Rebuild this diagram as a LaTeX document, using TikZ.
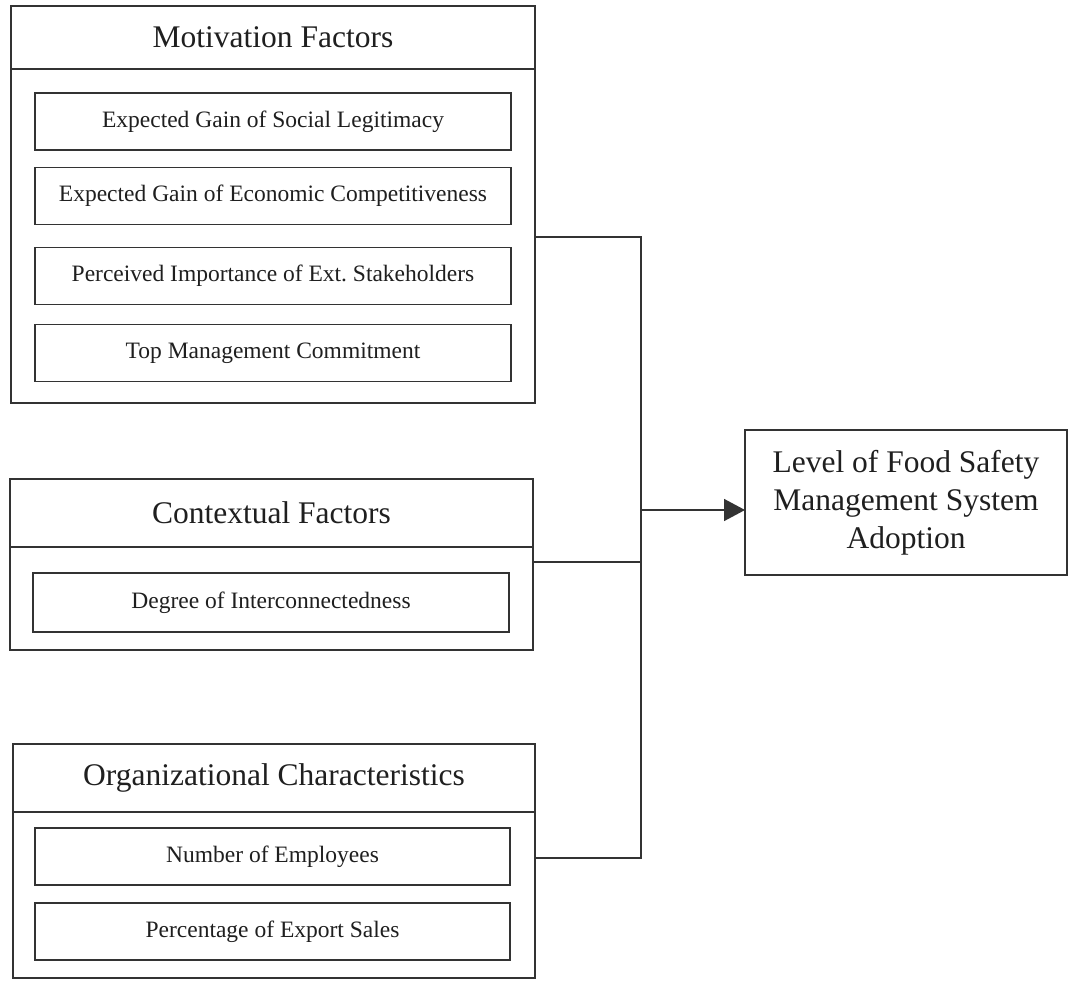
\documentclass[tikz,border=0pt]{standalone}
\usepackage{fontspec}
\setmainfont{Liberation Serif}
\usetikzlibrary{arrows.meta}
\tikzset{
  x=1pt, y=-1pt,
  boxline/.style={draw=black!80, line width=1.5pt},
  outerbox/.style={boxline, rectangle, inner sep=0pt, outer sep=0pt},
  headbox/.style={boxline, rectangle, inner sep=0pt, outer sep=0pt, text=black!88,
    font=\fontsize{31.5}{37.8}\selectfont},
  itembox/.style={boxline, rectangle, inner sep=0pt, outer sep=0pt, text=black!88,
    font=\fontsize{23.5}{28}\selectfont},
  targetbox/.style={boxline, rectangle, inner sep=0pt, outer sep=0pt, text=black!88,
    align=center, font=\fontsize{31.5}{37.8}\selectfont},
  conn/.style={draw=black!80, line width=1.5pt},
  arrowconn/.style={conn, -{Triangle[length=21pt,width=22pt]}},
}
\begin{document}
\begin{tikzpicture}
\useasboundingbox[fill=white] (0,0) rectangle (1068,980);

% Motivation Factors
\node[outerbox, minimum width=524pt, minimum height=397pt] (mot) at (273,204.5) {};
\node[headbox, minimum width=524pt, minimum height=63pt] (moth) at (273,37.5) {Motivation Factors};
\node[itembox, minimum width=476pt, minimum height=57pt] (m1) at (273,121.5) {Expected Gain of Social Legitimacy};
\node[itembox, minimum width=476pt, minimum height=57pt] (m2) at (273,196) {Expected Gain of Economic Competitiveness};
\node[itembox, minimum width=476pt, minimum height=57pt] (m3) at (273,276) {Perceived Importance of Ext.\ Stakeholders};
\node[itembox, minimum width=476pt, minimum height=57pt] (m4) at (273,353) {Top Management Commitment};

% Contextual Factors
\node[outerbox, minimum width=523pt, minimum height=171pt] (ctx) at (271.5,564.5) {};
\node[headbox, minimum width=523pt, minimum height=68pt] (ctxh) at (271.5,513) {Contextual Factors};
\node[itembox, minimum width=476pt, minimum height=59pt] (c1) at (271,602.5) {Degree of Interconnectedness};

% Organizational Characteristics
\node[outerbox, minimum width=522pt, minimum height=234pt] (org) at (274,861) {};
\node[headbox, minimum width=522pt, minimum height=68pt] (orgh) at (274,778) {Organizational Characteristics};
\node[itembox, minimum width=475pt, minimum height=57pt] (o1) at (272.5,856.5) {Number of Employees};
\node[itembox, minimum width=475pt, minimum height=57pt] (o2) at (272.5,931.5) {Percentage of Export Sales};

% Target
\node[targetbox, minimum width=322pt, minimum height=145pt] (tgt) at (906,502.5)
  {Level of Food Safety\\Management System\\Adoption};

% Connectors
\coordinate (j1) at (641,237);
\coordinate (j2) at (641,562);
\coordinate (j3) at (641,858);
\coordinate (ja) at (641,510);
\draw[conn] (mot.east |- j1) -- (j1) -- (j3) -- (org.east |- j3);
\draw[conn] (ctx.east |- j2) -- (j2);
\draw[arrowconn] (ja) -- (tgt.west |- ja);
\end{tikzpicture}
\end{document}
